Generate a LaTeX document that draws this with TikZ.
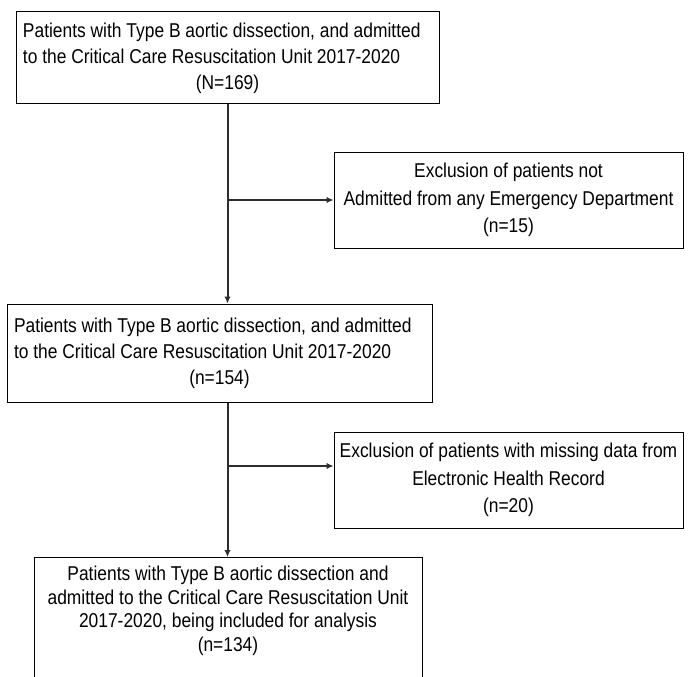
\documentclass[tikz,border=0pt]{standalone}
\usepackage{fontspec}
\setmainfont{Liberation Sans}[FakeStretch=0.87]
\usetikzlibrary{arrows.meta}
\definecolor{connc}{RGB}{45,45,45}
\begin{document}
\begin{tikzpicture}[x=1pt,y=1pt,
  box/.style={draw=black, line width=1pt, inner sep=0pt, font=\fontsize{20}{26}\selectfont},
  conn/.style={line width=2pt, draw=connc},
  arr/.style={conn, -{Latex[length=7pt,width=6.5pt]}}]
\useasboundingbox (0,0) rectangle (689,-677);
\clip (0,0) rectangle (689,-677);
\node[box, minimum width=423, minimum height=92, text width=409, align=flush left] (n1) at (227.5,-58)
  {Patients with Type B aortic dissection, and admitted\\to the Critical Care Resuscitation Unit 2017-2020\\\makebox[\linewidth]{(N=169)}};
\node[box, minimum width=349, minimum height=96, align=center, font=\fontsize{20}{27.5}\selectfont] (n2) at (508.5,-200)
  {Exclusion of patients not\\Admitted from any Emergency Department\\(n=15)};
\node[box, minimum width=425, minimum height=98, text width=411, align=flush left] (n3) at (219.5,-353)
  {Patients with Type B aortic dissection, and admitted\\to the Critical Care Resuscitation Unit 2017-2020\\\makebox[\linewidth]{(n=154)}};
\node[box, minimum width=349, minimum height=96, align=center, font=\fontsize{20}{27.5}\selectfont] (n4) at (508.5,-480)
  {Exclusion of patients with missing data from\\Electronic Health Record\\(n=20)};
\node[box, minimum width=388, anchor=north, inner ysep=9pt, align=center, font=\fontsize{20}{23.5}\selectfont] (n5) at (228,-557)
  {Patients with Type B aortic dissection and\\admitted to the Critical Care Resuscitation Unit\\2017-2020, being included for analysis\\(n=134)\\[40pt]\mbox{}};
\draw[arr] (n1.south) -- (n1.south |- n3.north);
\draw[arr] (n1.south |- n2.west) -- (n2.west);
\draw[arr] (n1.south |- n3.south) -- (n1.south |- n5.north);
\draw[arr] ([yshift=14pt]n1.south |- n4.west) -- ([yshift=14pt]n4.west);
\end{tikzpicture}
\end{document}
